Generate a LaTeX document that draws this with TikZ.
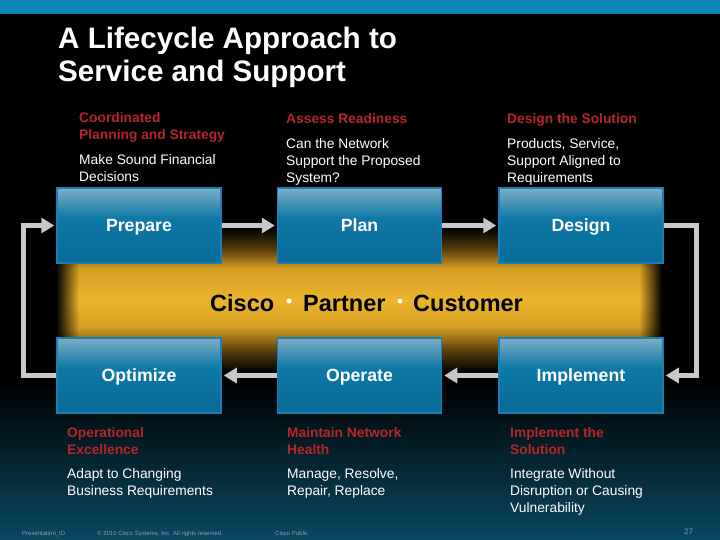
\documentclass[tikz,border=0pt]{standalone}
\usepackage{fontspec}
\setmainfont{Liberation Sans}
\usetikzlibrary{arrows.meta}

\definecolor{topbar}{HTML}{0B84BA}
\definecolor{redlab}{HTML}{B5262C}
\definecolor{arrowgray}{HTML}{C8C8C8}
\definecolor{boxtop}{HTML}{7EAEC6}
\definecolor{boxmid}{HTML}{0E78A6}
\definecolor{boxbot}{HTML}{086A98}
\definecolor{boxline}{HTML}{1A80B2}
\definecolor{bandY}{HTML}{ECB52D}
\definecolor{bandB}{HTML}{D49E22}
\definecolor{bandD}{HTML}{5A3E0C}
\definecolor{tealbg}{HTML}{0A4861}
\definecolor{footgray}{HTML}{8A9EA8}

% path bounding box maps to 25bp..75bp of a declared shading
\pgfdeclareverticalshading{boxshade}{100bp}{color(0bp)=(boxbot); color(25bp)=(boxbot); color(55bp)=(boxmid); color(75bp)=(boxtop); color(100bp)=(boxtop)}
\pgfdeclareverticalshading{bandshade}{100bp}{color(0bp)=(black); color(25bp)=(black); color(32.5bp)=(bandD); color(40.5bp)=(bandB); color(50bp)=(bandY); color(61bp)=(bandB); color(67.5bp)=(bandD); color(75bp)=(black); color(100bp)=(black)}

\tikzset{
  x=1pt, y=-1pt,
  stage/.style={draw=boxline, line width=1.5pt, shade, shading=boxshade,
    minimum width=164pt, minimum height=75pt, inner sep=0pt,
    text height=12.7pt, text depth=0pt, text=white,
    font=\bfseries\fontsize{17.7}{20}\selectfont},
  redtxt/.style={anchor=north west, inner sep=0pt, align=left, text=redlab,
    font=\bfseries\fontsize{13.8}{17}\selectfont},
  whitetxt/.style={anchor=north west, inner sep=0pt, align=left, text=white,
    font=\fontsize{13.8}{17}\selectfont},
  arr/.style={draw=arrowgray, line width=5pt, shorten >=2pt,
    -{Triangle[length=13pt,width=15pt]}},
  foot/.style={anchor=base west, inner sep=0pt, text=footgray,
    font=\fontsize{6}{7}\selectfont},
  dotw/.style={circle, fill=white, inner sep=0pt, minimum size=5pt},
  cpc/.style={anchor=base west, inner sep=0pt, text=black,
    font=\bfseries\fontsize{23.5}{26}\selectfont}
}

\begin{document}
\begin{tikzpicture}
\useasboundingbox (0,0) rectangle (720,540);
% background
\fill[black] (0,0) rectangle (720,540);
\shade[top color=black, bottom color=tealbg] (0,380) rectangle (720,540);
\fill[topbar] (0,0) rectangle (720,14);
% yellow band with soft side edges
\shade[shading=bandshade] (57,228) rectangle (662,372);
\foreach \i [evaluate=\i as \op using {1-\i/23}] in {0,...,22} {
  \fill[black, opacity=\op] (56+\i,227) rectangle (57+\i,373);
  \fill[black, opacity=\op] (662-\i,227) rectangle (663-\i,373);
}

% title
\node[anchor=north west, inner sep=0pt, align=left, text=white,
  font=\bfseries\fontsize{29.6}{32.5}\selectfont] (title) at (58,27)
  {A Lifecycle Approach to\\Service and Support};

% stages
\node[stage] (prep) at (139,225.5) {Prepare};
\node[stage] (plan) at (359.5,225.5) {Plan};
\node[stage] (des) at (581,225.5) {Design};
\node[stage] (opt) at (139,375.5) {Optimize};
\node[stage] (oper) at (359.5,375.5) {Operate};
\node[stage] (impl) at (581,375.5) {Implement};

% connectors
\draw[arr] (prep) -- (plan);
\draw[arr] (plan) -- (des);
\draw[arr] (des.east) -- ++(32.5,0) |- (impl.east);
\draw[arr] (impl) -- (oper);
\draw[arr] (oper) -- (opt);
\draw[arr] (opt.west) -- ++(-33,0) |- (prep.west);

% centre text
\node[cpc] (cisco) at (210,311) {Cisco};
\node[dotw] (d1) at (289,301) {};
\node[cpc] (partner) at (303,311) {Partner};
\node[dotw] (d2) at (400,301) {};
\node[cpc] (cust) at (413,311) {Customer};

% upper descriptions
\node[redtxt] (r1) at (79,112.8) {Coordinated\\Planning and Strategy};
\node[whitetxt] (w1) at (79,154.8) {Make Sound Financial\\Decisions};
\node[redtxt] (r2) at (286,113.8) {Assess Readiness};
\node[whitetxt] (w2) at (286,138.8) {Can the Network\\Support the Proposed\\System?};
\node[redtxt] (r3) at (507,113.8) {Design the Solution};
\node[whitetxt] (w3) at (507,138.8) {Products, Service,\\Support Aligned to\\Requirements};

% lower descriptions
\node[redtxt] (r4) at (67,426.8) {Operational\\Excellence};
\node[whitetxt] (w4) at (67,467.8) {Adapt to Changing\\Business Requirements};
\node[redtxt] (r5) at (287,426.8) {Maintain Network\\Health};
\node[whitetxt] (w5) at (287,467.8) {Manage, Resolve,\\Repair, Replace};
\node[redtxt] (r6) at (510,426.8) {Implement the\\Solution};
\node[whitetxt] (w6) at (510,467.8) {Integrate Without\\Disruption or Causing\\Vulnerability};

% footer
\node[foot] (f1) at (22,535) {Presentation\_ID};
\node[foot] (f2) at (97,535) {\textcopyright{} 2010 Cisco Systems, Inc. All rights reserved.};
\node[foot] (f3) at (275,535) {Cisco Public};
\node[foot, font=\fontsize{8}{9}\selectfont] (f4) at (684,534) {27};
\end{tikzpicture}
\end{document}
